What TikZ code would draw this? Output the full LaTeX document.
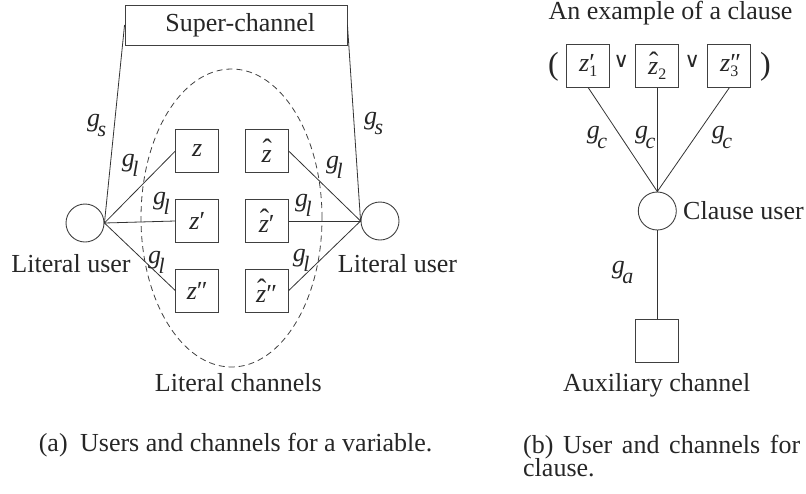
\documentclass[tikz,border=0pt]{standalone}
\usepackage{fontspec}
\setmainfont{Liberation Serif}
\newfontfamily\dejavu{DejaVu Sans}
\usetikzlibrary{shapes.geometric}
\newcommand\gsub[1]{\textit{g}\kern-2.5pt\raisebox{-10pt}{\fontsize{22}{22}\selectfont\textit{#1}}}
\newcommand\caret{\makebox[0pt][l]{\hspace{1pt}\raisebox{3.5pt}{\fontsize{28}{28}\selectfont ˆ}}}
\newcommand\smallsub[1]{\raisebox{-5pt}{\fontsize{16}{16}\selectfont #1}}
\begin{document}
\begin{tikzpicture}[x=1pt,y=-1pt,
  every node/.style={font=\fontsize{26}{30}\selectfont, text=black!85, inner sep=0pt},
  chan/.style={draw=black!75, line width=0.9pt, minimum width=43pt, minimum height=43pt},
  user/.style={draw=black!75, line width=0.9pt, circle, minimum size=38pt},
  link/.style={draw=black!80, line width=0.8pt},
  lbl/.style={anchor=base west}]
\useasboundingbox (0,0) rectangle (806,493);
% ---------- (a) ----------
\node[draw=black!75, line width=0.9pt, minimum width=222pt, minimum height=40pt] (sc) at (236,25) {\hspace{8.6pt}Super-channel};
\node[draw=black!75, line width=0.8pt, dash pattern=on 6pt off 4pt, ellipse, minimum width=181pt, minimum height=298pt] (lc) at (231.5,218) {};
\node[user] (L) at (85,223) {};
\node[user] (R) at (380,221) {};
\node[chan] (z1) at (197.3,151) {\textit{z}};
\node[chan] (z2) at (197.3,221) {\textit{z}′};
\node[chan] (z3) at (197.3,290.6) {\textit{z}″};
\node[chan] (h1) at (266.7,151) {\caret\textit{z}};
\node[chan] (h2) at (266.7,221) {\caret\textit{z}′};
\node[chan] (h3) at (266.7,290.6) {\caret\textit{z}″};
\draw[link] (sc.west) -- (L.east);
\draw[link] (sc.east) -- (R.west);
\draw[link] (L.east) -- (z1.west);
\draw[link] (L.east) -- (z2.west);
\draw[link] (L.east) -- (z3.west);
\draw[link] (h1.east) -- (R.west);
\draw[link] (h2.east) -- (R.west);
\draw[link] (h3.east) -- (R.west);
\node[lbl] (gs1) at (87,126.7) {\gsub{s}};
\node[lbl] (gs2) at (364,124.7) {\gsub{s}};
\node[lbl] (gl1) at (121.7,166.7) {\gsub{l}};
\node[lbl] (gl2) at (153,204.7) {\gsub{l}};
\node[lbl] (gl3) at (148,263.7) {\gsub{l}};
\node[lbl] (gl4) at (326,168.7) {\gsub{l}};
\node[lbl] (gl5) at (295,206.7) {\gsub{l}};
\node[lbl] (gl6) at (292.7,261.7) {\gsub{l}};
\node[anchor=base] (lu1) at (71,272) {Literal user};
\node[anchor=base] (lu2) at (397.5,272) {Literal user};
\node[anchor=base] (lch) at (238.3,391.7) {Literal channels};
\node[anchor=base west] (capa) at (38.6,451.7) {(a)\hspace{6pt} Users and channels for a variable.};
% ---------- (b) ----------
\node[anchor=base] (ex) at (670.5,19.5) {An example of a clause};
\node[anchor=base west, font=\fontsize{32}{34}\selectfont] (lp) at (548,74.3) {(};
\node[anchor=base west, font=\fontsize{32}{34}\selectfont] (rp) at (760,74.3) {)};
\node[chan] (c1) at (588.3,65.8) {\textit{z}\rlap{′}\smallsub{1}};
\node[chan] (c2) at (657.3,65.8) {\caret\textit{z}\smallsub{2}};
\node[chan] (c3) at (729.3,65.8) {\textit{z}\rlap{″}\smallsub{3}};
\node[font=\dejavu\fontsize{21}{21}\selectfont] (or1) at (621.3,61) {∨};
\node[font=\dejavu\fontsize{21}{21}\selectfont] (or2) at (692.2,61) {∨};
\node[user] (cu) at (657.3,211) {};
\node[chan] (aux) at (657.3,341.3) {};
\draw[link] (c1.south) -- (cu.north);
\draw[link] (c2.south) -- (cu.north);
\draw[link] (c3.south) -- (cu.north);
\draw[link] (cu.south) -- (aux.north);
\node[lbl] (gc1) at (586.7,138.4) {\gsub{c}};
\node[lbl] (gc2) at (635,138.4) {\gsub{c}};
\node[lbl] (gc3) at (711.7,138.4) {\gsub{c}};
\node[lbl] (ga) at (611.7,273.4) {\gsub{a}};
\node[anchor=base west] (cul) at (683,219) {Clause user};
\node[anchor=base] (auxl) at (656.7,391.7) {Auxiliary channel};
\node[anchor=base west] (capb1) at (523,453.3) {\makebox[277pt][s]{(b) User and channels for}};
\node[anchor=base west] (capb2) at (523,476.7) {clause.};
\end{tikzpicture}
\end{document}
